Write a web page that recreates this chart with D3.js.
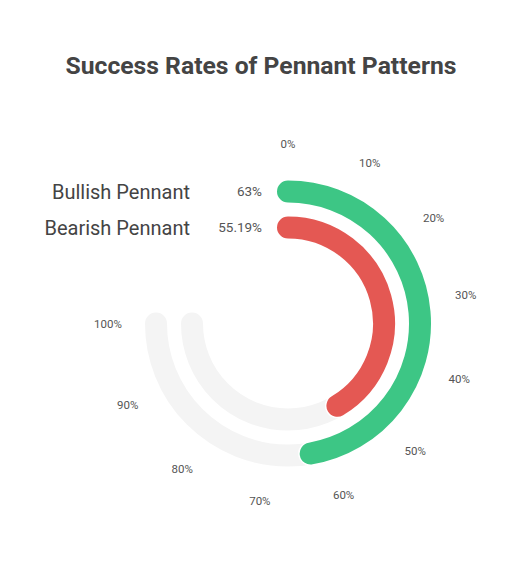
<!DOCTYPE html>
<html>
<head>
<meta charset="utf-8">
<script src="https://cdn.jsdelivr.net/npm/d3@7"></script>
<style>
  html, body { margin: 0; padding: 0; background: #fff; }
  svg { display: block; }
</style>
</head>
<body>
<svg id="chart" width="528" height="562"></svg>
<script>
const title = "Success Rates of Pennant Patterns";
const categories = ["Bullish Pennant", "Bearish Pennant"];
const values = [63, 55.19];
const valueLabels = ["63%", "55.19%"];
const colors = ["#3dc685", "#e45853"];
const tickValues = [0, 10, 20, 30, 40, 50, 60, 70, 80, 90, 100];

const W = 528, H = 562;
const cx = 288, cy = 323.5;
const svg = d3.select("#chart");

svg.append("text")
  .attr("x", 261).attr("y", 74)
  .attr("text-anchor", "middle")
  .style("font-family", "Roboto, sans-serif")
  .style("font-weight", "700")
  .style("font-size", "24.7px")
  .style("fill", "#444")
  .text(title);

const angle = d3.scaleLinear().domain([0, 100]).range([0, 1.5 * Math.PI]);
const ring = d3.scaleBand().domain(categories).range([143, 85]).paddingInner(0.389).paddingOuter(0);
const bw = ring.bandwidth();
const midR = (cat) => ring(cat) + bw / 2;

const g = svg.append("g").attr("transform", `translate(${cx},${cy})`);

const arcPath = (cat, v0, v1) => {
  const p = d3.path();
  const r = midR(cat);
  const a0 = angle(v0) - Math.PI / 2, a1 = angle(v1) - Math.PI / 2;
  p.moveTo(r * Math.cos(a0), r * Math.sin(a0));
  p.arc(0, 0, r, a0, a1, false);
  return p.toString();
};

// tracks
categories.forEach((cat) => {
  g.append("path")
    .attr("d", arcPath(cat, 0, 100))
    .attr("fill", "none")
    .attr("stroke", "#f4f4f4")
    .attr("stroke-width", bw)
    .attr("stroke-linecap", "round");
});

// bars
categories.forEach((cat, i) => {
  g.append("path")
    .attr("d", arcPath(cat, 0, values[i]))
    .attr("fill", "none")
    .attr("stroke", "#fff")
    .attr("stroke-width", bw + 3)
    .attr("stroke-linecap", "round");
  g.append("path")
    .attr("d", arcPath(cat, 0, values[i]))
    .attr("fill", "none")
    .attr("stroke", colors[i])
    .attr("stroke-width", bw)
    .attr("stroke-linecap", "round");
});

// tick labels
const labelR = 180;
g.selectAll("text.tick")
  .data(tickValues)
  .enter().append("text")
  .attr("class", "tick")
  .attr("x", d => labelR * Math.sin(angle(d)))
  .attr("y", d => -labelR * Math.cos(angle(d)))
  .attr("text-anchor", "middle")
  .attr("dy", "0.35em")
  .style("font-family", "Roboto, sans-serif")
  .style("font-size", "11.5px")
  .style("fill", "#555")
  .text(d => d + "%");

// legend labels
categories.forEach((cat, i) => {
  const r = midR(cat);
  g.append("text")
    .attr("x", 190 - cx)
    .attr("y", -r)
    .attr("dy", "0.35em")
    .attr("text-anchor", "end")
    .style("font-family", "Roboto, sans-serif")
    .style("font-size", "20px")
    .style("fill", "#444")
    .text(cat);
  g.append("text")
    .attr("x", 262 - cx)
    .attr("y", -r)
    .attr("dy", "0.35em")
    .attr("text-anchor", "end")
    .style("font-family", "Roboto, sans-serif")
    .style("font-size", "13.5px")
    .style("fill", "#555")
    .text(valueLabels[i]);
});
</script>
</body>
</html>
